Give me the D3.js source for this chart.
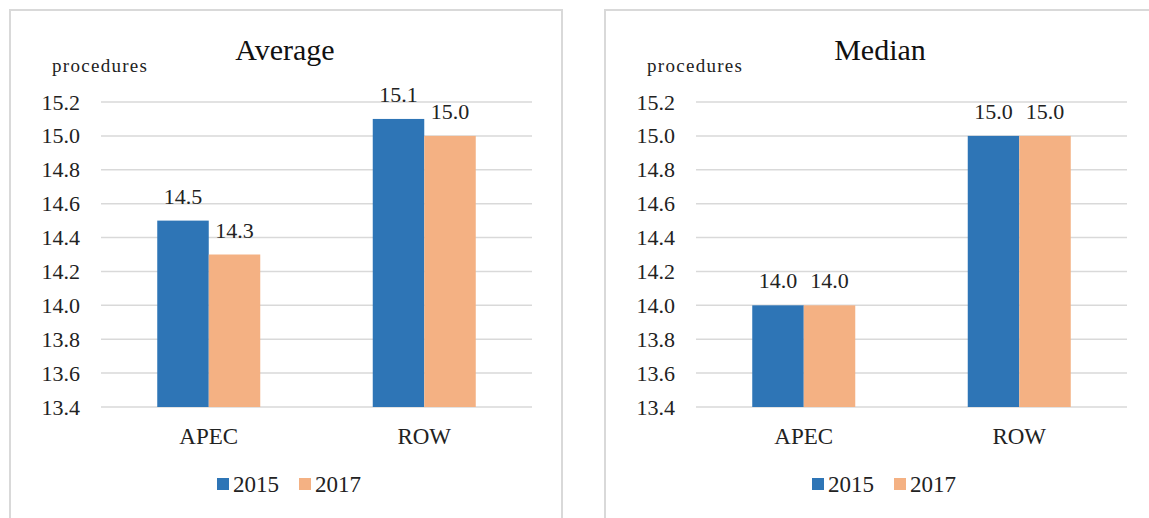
<!DOCTYPE html>
<html>
<head>
<meta charset="utf-8">
<script src="https://cdn.jsdelivr.net/npm/d3@7"></script>
<style>
  body { margin: 0; background: #fff; }
  svg text { font-family: "Liberation Serif", "Times New Roman", serif; }
</style>
</head>
<body>
<div id="chart"></div>
<script>
// chart data
var categories = ["APEC", "ROW"];
var seriesNames = ["2015", "2017"];
var averageValues = [[14.5, 14.3], [15.1, 15.0]]; // per category: [2015, 2017]
var medianValues = [[14.0, 14.0], [15.0, 15.0]];
var yTicks = [13.4, 13.6, 13.8, 14.0, 14.2, 14.4, 14.6, 14.8, 15.0, 15.2];
var panelTitles = ["Average", "Median"];
var unitLabel = "procedures";

var colors = ["#2e75b6", "#f4b183"];
var serif = "'Liberation Serif', 'Times New Roman', serif";

var svg = d3.select("#chart").append("svg")
    .attr("width", 1149)
    .attr("height", 518);

function drawPanel(ox, title, values) {
    var g = svg.append("g").attr("transform", "translate(" + ox + ",10)");

    // panel frame
    g.append("rect")
        .attr("x", 0).attr("y", 0)
        .attr("width", 552).attr("height", 530)
        .attr("fill", "#fff")
        .attr("stroke", "#d9d9d9")
        .attr("stroke-width", 2);

    var y = d3.scaleLinear().domain([13.4, 15.2]).range([397, 92]);
    var x0 = d3.scaleBand().domain(categories).range([91, 522]);
    var bw = x0.bandwidth();
    var x1 = d3.scaleBand().domain(seriesNames)
        .range([bw / 2 - 51.5, bw / 2 + 51.5]);

    // gridlines
    g.append("g")
        .selectAll("line")
        .data(yTicks)
        .enter()
        .append("line")
        .attr("x1", 91).attr("x2", 522)
        .attr("y1", function(d) { return y(d); })
        .attr("y2", function(d) { return y(d); })
        .attr("stroke", "#d9d9d9")
        .attr("stroke-width", 1.5);

    // y axis labels
    var yAxis = g.append("g")
        .attr("transform", "translate(91,0)")
        .call(d3.axisLeft(y).tickValues(yTicks).tickFormat(d3.format(".1f")).tickSize(0).tickPadding(21));
    yAxis.attr("font-family", null).attr("font-size", null);
    yAxis.select(".domain").remove();
    yAxis.selectAll("text")
        .style("font-family", serif)
        .style("font-size", "22px")
        .attr("fill", "#222");

    // bars
    var groups = g.selectAll(".grp")
        .data(categories)
        .enter()
        .append("g")
        .attr("transform", function(d) { return "translate(" + x0(d) + ",0)"; });

    groups.each(function(c, ci) {
        var grp = d3.select(this);
        var vals = seriesNames.map(function(s, si) {
            return { s: s, i: si, v: values[ci][si] };
        });
        grp.selectAll("rect")
            .data(vals)
            .enter()
            .append("rect")
            .attr("x", function(d) { return x1(d.s); })
            .attr("width", x1.bandwidth())
            .attr("y", function(d) { return y(d.v); })
            .attr("height", function(d) { return y(13.4) - y(d.v); })
            .attr("fill", function(d) { return colors[d.i]; });
        grp.selectAll("text")
            .data(vals)
            .enter()
            .append("text")
            .attr("x", function(d) { return x1(d.s) + x1.bandwidth() / 2; })
            .attr("y", function(d) { return y(d.v) - 17; })
            .attr("text-anchor", "middle")
            .style("font-family", serif)
            .style("font-size", "22px")
            .attr("fill", "#222")
            .text(function(d) { return d.v.toFixed(1); });
    });

    // category labels
    g.append("g")
        .selectAll("text")
        .data(categories)
        .enter()
        .append("text")
        .attr("x", function(d) { return x0(d) + bw / 2; })
        .attr("y", 434)
        .attr("text-anchor", "middle")
        .style("font-family", serif)
        .style("font-size", "23px")
        .attr("fill", "#222")
        .text(function(d) { return d; });

    // title
    g.append("text")
        .attr("x", 275)
        .attr("y", 50)
        .attr("text-anchor", "middle")
        .style("font-family", serif)
        .style("font-size", "30px")
        .attr("fill", "#111")
        .text(title);

    // unit label
    g.append("text")
        .attr("x", 42)
        .attr("y", 62)
        .style("font-family", serif)
        .style("font-size", "19px")
        .attr("textLength", 95)
        .attr("lengthAdjust", "spacing")
        .attr("fill", "#222")
        .text(unitLabel);

    // legend
    var leg = g.append("g")
        .selectAll("g")
        .data(seriesNames)
        .enter()
        .append("g")
        .attr("transform", function(d, i) { return "translate(" + (207 + i * 82) + ",468)"; });
    leg.append("rect")
        .attr("width", 12).attr("height", 12)
        .attr("fill", function(d, i) { return colors[i]; });
    leg.append("text")
        .attr("x", 16)
        .attr("y", 14)
        .style("font-family", serif)
        .style("font-size", "23px")
        .attr("fill", "#222")
        .text(function(d) { return d; });
}

drawPanel(10, panelTitles[0], averageValues);
drawPanel(605, panelTitles[1], medianValues);
</script>
</body>
</html>
